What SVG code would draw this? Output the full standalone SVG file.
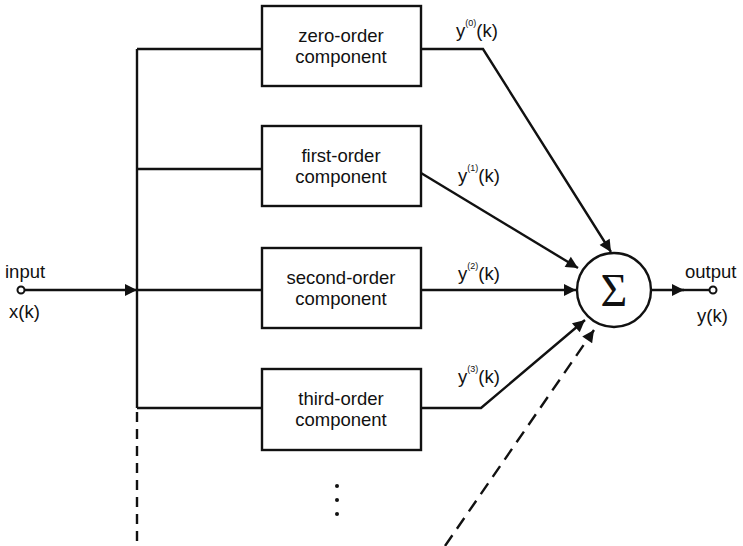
<svg xmlns="http://www.w3.org/2000/svg" width="743" height="546" viewBox="0 0 743 546">
<style>
.ln{fill:none;stroke:#111;stroke-width:2.4}
.box{fill:#fff;stroke:#111;stroke-width:2.4}
.t{font-family:"Liberation Sans",Arial,sans-serif;font-size:18.5px;fill:#111}
.c{text-anchor:middle}
.sup{font-size:9px}
</style>
<defs>
<marker id="ah2" viewBox="0 0 10 10" refX="10" refY="5" markerWidth="16" markerHeight="12" markerUnits="userSpaceOnUse" orient="auto">
<path d="M0,0 L10,5 L0,10 z" fill="#111"/>
</marker>
</defs>
<rect width="743" height="546" fill="#fff"/>
<g id="connectors">
<path class="ln" d="M137,49 V408"/>
<path class="ln" d="M137,412 V546" stroke-dasharray="10,7"/>
<path class="ln" d="M137,49 H262 M137,169 H262 M137,290 H262 M137,408 H262"/>
<path class="ln" d="M25,290 H137" marker-end="url(#ah2)"/>
<path class="ln" d="M421,49 H483 L611,252" marker-end="url(#ah2)"/>
<path class="ln" d="M421,173 L578,268" marker-end="url(#ah2)"/>
<path class="ln" d="M421,290 H576" marker-end="url(#ah2)"/>
<path class="ln" d="M421,408 H481 L585,320" marker-end="url(#ah2)"/>
<path class="ln" d="M445,546 L594,330" stroke-dasharray="13,8" marker-end="url(#ah2)"/>
<path class="ln" d="M651,290 H684" marker-end="url(#ah2)"/>
<path class="ln" d="M680,290 H710"/>
</g>
<g id="input">
<circle cx="21" cy="290" r="3.5" fill="#fff" stroke="#111" stroke-width="2"/>
<text class="t" x="5" y="278">input</text>
<text class="t" x="9" y="318">x(k)</text>
</g>
<g id="output">
<circle cx="713" cy="290" r="3.5" fill="#fff" stroke="#111" stroke-width="2"/>
<text class="t" x="685" y="278">output</text>
<text class="t" x="697" y="322">y(k)</text>
</g>
<g id="zero">
<rect class="box" x="262" y="6" width="159" height="80"/>
<text class="t c" x="341" y="42">zero-order</text>
<text class="t c" x="341" y="63">component</text>
</g>
<g id="first">
<rect class="box" x="262" y="126" width="159" height="80"/>
<text class="t c" x="341" y="162">first-order</text>
<text class="t c" x="341" y="183">component</text>
</g>
<g id="second">
<rect class="box" x="262" y="248" width="159" height="80"/>
<text class="t c" x="341" y="284">second-order</text>
<text class="t c" x="341" y="305">component</text>
</g>
<g id="third">
<rect class="box" x="262" y="369" width="159" height="81"/>
<text class="t c" x="341" y="405">third-order</text>
<text class="t c" x="341" y="426">component</text>
</g>
<g id="sum">
<circle cx="614" cy="290" r="37" fill="#fff" stroke="#111" stroke-width="2.4"/>
<text x="614" y="306" text-anchor="middle" font-family="'Liberation Serif','Times New Roman',serif" font-size="46" fill="#111">Σ</text>
</g>
<g id="labels">
<text class="t" x="456" y="37">y<tspan class="sup" dy="-11">(0)</tspan><tspan dy="11">(k)</tspan></text>
<text class="t" x="458" y="182">y<tspan class="sup" dy="-11">(1)</tspan><tspan dy="11">(k)</tspan></text>
<text class="t" x="458" y="280">y<tspan class="sup" dy="-11">(2)</tspan><tspan dy="11">(k)</tspan></text>
<text class="t" x="458" y="383">y<tspan class="sup" dy="-11">(3)</tspan><tspan dy="11">(k)</tspan></text>
</g>
<g id="dots" fill="#111">
<circle cx="337" cy="486" r="2"/>
<circle cx="337" cy="500" r="2"/>
<circle cx="337" cy="514" r="2"/>
</g>
</svg>
